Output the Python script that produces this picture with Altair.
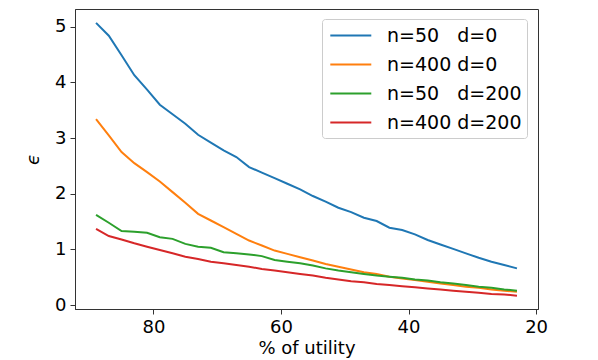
import altair as alt
import pandas as pd

x_vals = [89, 87, 85, 83, 81, 79, 77, 75, 73, 71, 69, 67, 65, 63, 61, 59, 57,
          55, 53, 51, 49, 47, 45, 43, 41, 39, 37, 35, 33, 31, 29, 27, 25, 23]

blue = [5.07, 4.84, 4.49, 4.13, 3.87, 3.60, 3.43, 3.26, 3.06, 2.92, 2.78, 2.66,
        2.48, 2.38, 2.28, 2.18, 2.08, 1.96, 1.86, 1.75, 1.67, 1.57, 1.51, 1.39,
        1.35, 1.27, 1.17, 1.09, 1.01, 0.93, 0.85, 0.78, 0.72, 0.66]
orange = [3.34, 3.05, 2.75, 2.55, 2.39, 2.22, 2.03, 1.84, 1.64, 1.52, 1.40, 1.28,
          1.16, 1.07, 0.98, 0.92, 0.86, 0.80, 0.74, 0.69, 0.64, 0.59, 0.56, 0.51,
          0.48, 0.45, 0.42, 0.39, 0.36, 0.33, 0.31, 0.28, 0.26, 0.24]
green = [1.62, 1.48, 1.33, 1.32, 1.30, 1.22, 1.19, 1.10, 1.05, 1.03, 0.95, 0.93,
         0.91, 0.88, 0.81, 0.78, 0.75, 0.71, 0.66, 0.62, 0.59, 0.56, 0.53, 0.51,
         0.49, 0.46, 0.44, 0.41, 0.39, 0.36, 0.33, 0.31, 0.28, 0.26]
red = [1.37, 1.24, 1.18, 1.11, 1.05, 0.99, 0.93, 0.87, 0.83, 0.78, 0.75, 0.72,
       0.69, 0.65, 0.62, 0.59, 0.56, 0.53, 0.49, 0.46, 0.43, 0.41, 0.38, 0.36,
       0.34, 0.32, 0.30, 0.28, 0.26, 0.24, 0.22, 0.20, 0.19, 0.17]

NB = "\u00a0"
series_names = [f"n=50{NB*3}d=0", f"n=400{NB}d=0", f"n=50{NB*3}d=200", f"n=400{NB}d=200"]
series_vals = [blue, orange, green, red]
colors = ["#1f77b4", "#ff7f0e", "#2ca02c", "#d62728"]

rows = []
for name, vals in zip(series_names, series_vals):
    for xv, yv in zip(x_vals, vals):
        rows.append({"x": xv, "y": yv, "series": name})
df = pd.DataFrame(rows)

FONT = "DejaVu Sans"

chart = alt.Chart(df).mark_line(strokeWidth=2, clip=True).encode(
    x=alt.X("x:Q",
            scale=alt.Scale(domain=[19.7, 92.3], reverse=True, nice=False, zero=False),
            axis=alt.Axis(values=[80, 60, 40, 20], title="% of utility", grid=False,
                          labelFontSize=18, titleFontSize=18, labelFont=FONT, titleFont=FONT,
                          titleFontWeight="normal", labelColor="#000", titleColor="#000",
                          domainColor="#333", tickColor="#333", tickSize=5,
                          labelPadding=4, titlePadding=3)),
    y=alt.Y("y:Q",
            scale=alt.Scale(domain=[-0.07, 5.32], nice=False, zero=False),
            axis=alt.Axis(values=[0, 1, 2, 3, 4, 5], title="ϵ", grid=False,
                          labelFontSize=18, titleFontSize=18, labelFont=FONT, titleFont=FONT,
                          titleFontWeight="normal", labelColor="#000", titleColor="#000",
                          domainColor="#333", tickColor="#333", tickSize=5,
                          labelPadding=4, titlePadding=12, titleFontStyle="italic")),
    color=alt.Color("series:N",
                    sort=series_names,
                    scale=alt.Scale(domain=series_names, range=colors),
                    legend=alt.Legend(title=None, orient="none", legendX=247, legendY=10,
                                      symbolType="M-0.8,0L3.2,0", symbolSize=420,
                                      symbolStrokeWidth=2, symbolFillColor="transparent",
                                      labelFontSize=19, labelFont=FONT,
                                      labelColor="#000", labelOffset=37, rowPadding=7,
                                      padding=5, fillColor="white", strokeColor="#ccc",
                                      cornerRadius=3)),
).properties(
    width=463, height=300,
    autosize=alt.AutoSizeParams(type="none"),
    padding={"left": 67, "top": 1, "right": 52, "bottom": 51},
).configure_view(stroke="#333", strokeWidth=1)

chart.save("out.html", embed_options={"renderer": "svg", "actions": False})
